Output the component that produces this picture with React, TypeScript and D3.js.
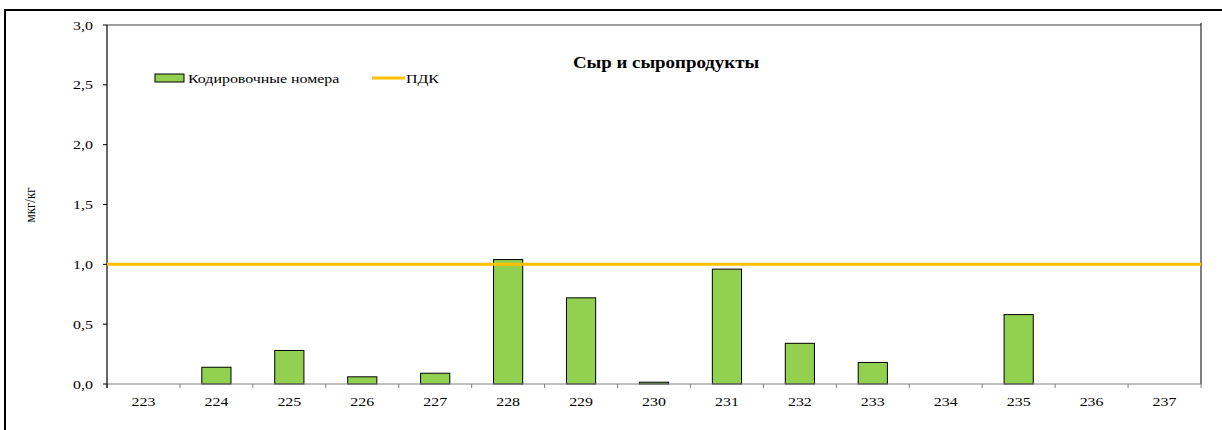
import React from "react";
import * as d3 from "d3";

const categories: string[] = ["223", "224", "225", "226", "227", "228", "229", "230", "231", "232", "233", "234", "235", "236", "237"];
const values: number[] = [0, 0.14, 0.28, 0.06, 0.09, 1.04, 0.72, 0.015, 0.96, 0.34, 0.18, 0, 0.58, 0, 0];
const pdk = 1.0;
const yTicks: number[] = [0, 0.5, 1, 1.5, 2, 2.5, 3];
const title = "Сыр и сыропродукты";
const yTitle = "мкг/кг";
const legendBars = "Кодировочные номера";
const legendLine = "ПДК";

const SX = 1.18;

function T(props: { x: number; y: number; anchor?: string; size: number; bold?: boolean; rotate?: number; children: React.ReactNode }) {
  const { x, y, anchor = "start", size, bold, rotate, children } = props;
  return (
    <text transform={`translate(${x},${y}) scale(${SX},1)${rotate ? ` rotate(${rotate})` : ""}`}
      textAnchor={anchor} fontSize={size} fontWeight={bold ? "bold" : "normal"} fill="#000">{children}</text>
  );
}

export default function App() {
  const W = 1222, H = 430;
  const left = 107, right = 1201, top = 25, bottom = 384;
  const x = d3.scaleBand<string>().domain(categories).range([left, right]).paddingInner(0.6).paddingOuter(0.3);
  const xEdge = d3.scaleBand<string>().domain(categories).range([left, right]);
  const y = d3.scaleLinear().domain([0, 3]).range([bottom, top]);
  const fmt = (v: number) => v.toFixed(1).replace(".", ",");
  const font = "'Liberation Serif', 'Times New Roman', serif";
  return (
    <svg width={W} height={H} style={{ position: "absolute", left: 0, top: 0 }} fontFamily={font}>
      <rect x={0} y={0} width={W} height={H} fill="#fff" />
      <rect x={5} y={10} width={W + 20} height={H + 20} fill="none" stroke="#000" strokeWidth={2} />
      {/* plot frame */}
      <line x1={left} x2={right} y1={top} y2={top} stroke="#808080" strokeWidth={1.5} />
      <line x1={right} x2={right} y1={top - 2} y2={bottom} stroke="#000" strokeWidth={1} />
      {/* bars */}
      {categories.map((c, i) => (
        values[i] > 0 ? (
          <rect key={c} x={x(c)!} y={y(values[i])} width={x.bandwidth()} height={bottom - y(values[i])}
            fill="#92D050" stroke="#000" strokeWidth={1} />
        ) : null
      ))}
      {/* x axis */}
      <line x1={left} x2={right} y1={bottom} y2={bottom} stroke="#808080" strokeWidth={1} />
      {categories.map((c) => (
        <line key={"t" + c} x1={xEdge(c)!} x2={xEdge(c)!} y1={bottom} y2={bottom + 4} stroke="#808080" strokeWidth={1} />
      ))}
      <line x1={right} x2={right} y1={bottom} y2={bottom + 4} stroke="#808080" strokeWidth={1} />
      {categories.map((c) => (
        <T key={"l" + c} x={xEdge(c)! + xEdge.bandwidth() / 2} y={406} anchor="middle" size={13.5}>{c}</T>
      ))}
      {/* y axis */}
      <line x1={left} x2={left} y1={top} y2={bottom + 4} stroke="#000" strokeWidth={1.2} />
      {yTicks.map((t) => (
        <g key={"y" + t}>
          <line x1={left - 4} x2={left} y1={y(t)} y2={y(t)} stroke="#000" strokeWidth={1} />
          <T x={93} y={y(t) + 4.5} anchor="end" size={13.5}>{fmt(t)}</T>
        </g>
      ))}
      <T x={35} y={205} anchor="middle" size={13} rotate={-90}>{yTitle}</T>
      {/* PDK line */}
      <line x1={left} x2={right} y1={y(pdk)} y2={y(pdk)} stroke="#FFC000" strokeWidth={3} />
      {/* title */}
      <T x={666} y={68} anchor="middle" size={16} bold>{title}</T>
      {/* legend */}
      <rect x={155} y={74} width={29} height={8} fill="#92D050" stroke="#000" strokeWidth={1} />
      <T x={188} y={83} size={13.5}>{legendBars}</T>
      <line x1={372} x2={405} y1={78} y2={78} stroke="#FFC000" strokeWidth={3} />
      <T x={406} y={83} size={13.5}>{legendLine}</T>
    </svg>
  );
}
